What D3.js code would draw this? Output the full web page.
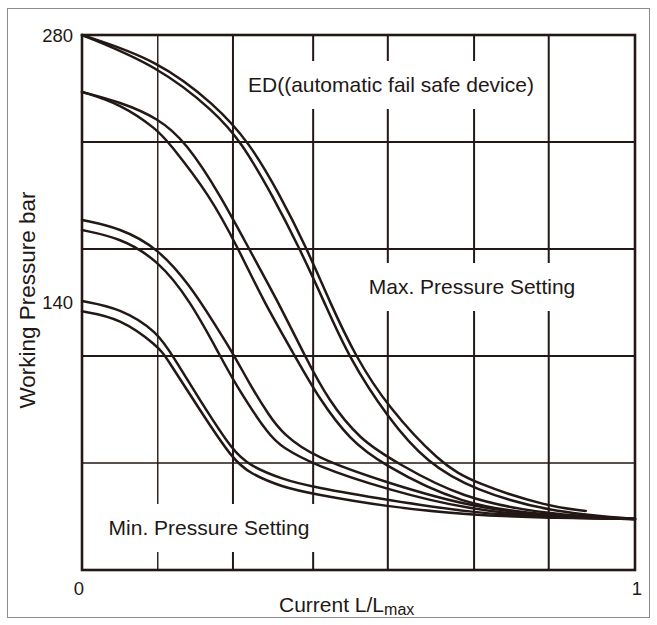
<!DOCTYPE html>
<html>
<head>
<meta charset="utf-8">
<script src="https://cdn.jsdelivr.net/npm/d3@7"></script>
<style>
  body { margin: 0; background: #fff; }
  text { font-family: "Liberation Sans", Arial, sans-serif; fill: #231815; }
</style>
</head>
<body>
<div id="vis"></div>
<script>
const width = 657;
const height = 625;
const ink = "#231815";

// x = current L/Lmax, y = working pressure in bar
const xGridValues = [0.137, 0.273, 0.418, 0.553, 0.709, 0.844];
const yGridValues = [56, 112, 168, 224];
const xTickLabels = ["0", "1"];
const yTickLabels = ["140", "280"];

// ED (automatic fail safe device) pair
const edUpper = [[0, 280], [0.137, 266.9], [0.241, 243.4], [0.302, 224], [0.358, 196.3], [0.407, 168],
  [0.448, 140.3], [0.494, 112], [0.553, 85.3], [0.647, 56], [0.709, 45.5], [0.844, 33], [0.911, 30.9]];
const edLower = [[0, 280], [0.137, 263.8], [0.241, 239.7], [0.288, 224], [0.344, 196.3], [0.394, 168],
  [0.438, 140.3], [0.481, 112], [0.553, 79.5], [0.624, 56], [0.709, 41.9], [0.844, 30.4], [1, 26.7]];
// 250 bar pair
const p250Upper = [[0, 250.2], [0.069, 244.9], [0.137, 236.6], [0.188, 224], [0.25, 196.3], [0.302, 168],
  [0.353, 141.3], [0.403, 112], [0.445, 89], [0.503, 68], [0.57, 56], [0.684, 37.7], [0.844, 28.8], [1, 26.7]];
const p250Lower = [[0, 250.2], [0.069, 244], [0.137, 230.3], [0.156, 224], [0.231, 196.3], [0.283, 168],
  [0.327, 141.3], [0.385, 112], [0.43, 89], [0.485, 68], [0.539, 56], [0.684, 34], [0.844, 28.3], [1, 26.7]];
// 180 bar pair
const p180Upper = [[0, 183.2], [0.069, 179], [0.137, 168.5], [0.195, 149.1], [0.241, 128.2], [0.275, 112.5],
  [0.304, 96.8], [0.34, 80.1], [0.362, 71.7], [0.418, 59.1], [0.553, 45.5], [0.702, 33], [0.844, 28], [1, 26.7]];
const p180Lower = [[0, 177.9], [0.069, 173.8], [0.137, 162.3], [0.195, 141.3], [0.25, 112], [0.28, 95.8],
  [0.34, 69.6], [0.362, 64.4], [0.418, 55], [0.553, 41.9], [0.702, 31.4], [0.844, 27.7], [1, 26.7]];
// 140 bar pair
const p140Upper = [[0, 140.8], [0.069, 137.1], [0.137, 124.6], [0.165, 111.5], [0.213, 89], [0.273, 62],
  [0.304, 54.5], [0.362, 47.5], [0.418, 43.4], [0.553, 36.6], [0.702, 30], [0.844, 27.5], [1, 26.7]];
const p140Lower = [[0, 135.4], [0.069, 131.9], [0.137, 117.2], [0.152, 111.5], [0.213, 83.7], [0.273, 57.6],
  [0.304, 50.5], [0.362, 43.4], [0.418, 39.8], [0.553, 33], [0.702, 28.8], [0.844, 27.2], [1, 26.7]];

const curves = [edUpper, edLower, p250Upper, p250Lower, p180Upper, p180Lower, p140Upper, p140Lower];

window.onload = function () {
  const svg = d3.select("#vis").append("svg")
    .attr("width", width)
    .attr("height", height);

  // thin outer picture border
  svg.append("rect")
    .attr("x", 7.5).attr("y", 8.5)
    .attr("width", 642).attr("height", 609)
    .attr("fill", "none")
    .attr("stroke", "#8c8c8c")
    .attr("stroke-width", 1);

  const x = d3.scaleLinear().domain([0, 1]).range([82, 635]);
  const y = d3.scaleLinear().domain([0, 280]).range([570, 35]);

  // grid
  svg.append("g").selectAll("line").data(xGridValues).enter().append("line")
    .attr("x1", d => x(d)).attr("x2", d => x(d))
    .attr("y1", y(0)).attr("y2", y(280))
    .attr("stroke", ink)
    .attr("stroke-width", (d, i) => i === 0 ? 1.4 : 2);

  svg.append("g").selectAll("line").data(yGridValues).enter().append("line")
    .attr("x1", x(0)).attr("x2", x(1))
    .attr("y1", d => y(d)).attr("y2", d => y(d))
    .attr("stroke", ink)
    .attr("stroke-width", (d, i) => i === 0 ? 1.4 : 2);

  // in-plot labels knock out the grid behind them
  const notes = [
    { text: "ED((automatic fail safe device)", cx: 391, cy: 85 },
    { text: "Max. Pressure Setting", cx: 472, cy: 287 },
    { text: "Min. Pressure Setting", cx: 209, cy: 528 }
  ];
  notes.forEach(n => {
    const t = svg.append("text")
      .attr("x", n.cx).attr("y", n.cy)
      .attr("dy", "0.35em")
      .attr("text-anchor", "middle")
      .style("font-size", "21px")
      .text(n.text);
    const b = t.node().getBBox();
    svg.insert("rect", "text")
      .attr("x", b.x - 8).attr("y", n.cy - 24)
      .attr("width", b.width + 16).attr("height", 48)
      .attr("fill", "#fff");
  });

  // plot frame
  svg.append("rect")
    .attr("x", x(0)).attr("y", y(280))
    .attr("width", x(1) - x(0)).attr("height", y(0) - y(280))
    .attr("fill", "none")
    .attr("stroke", ink)
    .attr("stroke-width", 2.6);

  const line = d3.line()
    .x(d => x(d[0]))
    .y(d => y(d[1]))
    .curve(d3.curveBasis);

  svg.append("g").selectAll("path").data(curves).enter().append("path")
    .attr("d", line)
    .attr("fill", "none")
    .attr("stroke", ink)
    .attr("stroke-width", 2.5)
    .attr("stroke-linecap", "round");

  // tick labels
  svg.selectAll(".ylab").data(yTickLabels).enter().append("text")
    .attr("class", "ylab")
    .attr("x", 73)
    .attr("y", d => y(+d))
    .attr("dy", "0.36em")
    .attr("text-anchor", "end")
    .style("font-size", "18.5px")
    .text(d => d);

  svg.selectAll(".xlab").data(xTickLabels).enter().append("text")
    .attr("class", "xlab")
    .attr("x", d => x(+d) - (d === "0" ? 3 : -2))
    .attr("y", 595)
    .attr("text-anchor", "middle")
    .style("font-size", "18.5px")
    .text(d => d);

  // axis titles
  const xt = svg.append("text")
    .attr("x", 279).attr("y", 612)
    .style("font-size", "21px");
  xt.append("tspan").text("Current L/L");
  xt.append("tspan").attr("dy", 3).style("font-size", "16px").text("max");

  svg.append("text")
    .attr("transform", "translate(35,300) rotate(-90)")
    .attr("text-anchor", "middle")
    .style("font-size", "22.5px")
    .text("Working Pressure bar");
};
</script>
</body>
</html>
